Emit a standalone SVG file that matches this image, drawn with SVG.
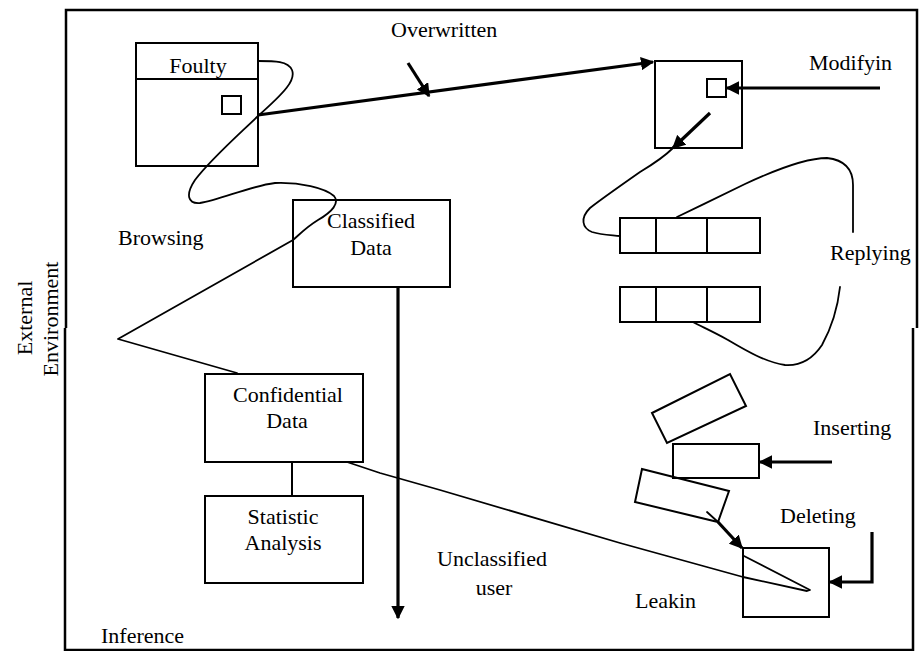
<svg xmlns="http://www.w3.org/2000/svg" width="921" height="651" viewBox="0 0 921 651">
<style>
text{font-family:"Liberation Serif","Times New Roman",serif;font-size:22px;fill:#000}
.box{fill:none;stroke:#000;stroke-width:2}
.thin{fill:none;stroke:#000;stroke-width:1.8;stroke-linejoin:round;stroke-linecap:round}
.thick{fill:none;stroke:#000;stroke-width:3.2}
.frame{fill:none;stroke:#000;stroke-width:2.5}
.c{text-anchor:middle}
</style>
<defs>
<marker id="ah" viewBox="0 0 10 10" refX="9" refY="5" markerWidth="4.2" markerHeight="4.2" orient="auto" markerUnits="strokeWidth">
<path d="M0,0 L10,5 L0,10 z" fill="#000"/>
</marker>
</defs>
<rect width="921" height="651" fill="#fff"/>
<g id="frame">
<path class="frame" d="M66,328 V10 H917 V328"/>
<path class="frame" d="M65,328 V650 H913 V328"/>
</g>
<g id="foulty">
<rect class="box" x="136" y="43" width="122" height="123"/>
<line class="box" x1="136" y1="79" x2="258" y2="79"/>
<rect class="box" x="222" y="96" width="19" height="18"/>
<text class="c" x="198" y="73">Foulty</text>
</g>
<g id="modify-box">
<rect class="box" x="655" y="61" width="87" height="87"/>
<rect class="box" x="707" y="79" width="19" height="18"/>
</g>
<g id="classified">
<rect class="box" x="293" y="200" width="157" height="87"/>
<text class="c" x="371" y="228">Classified</text>
<text class="c" x="371" y="255">Data</text>
</g>
<g id="confidential">
<rect class="box" x="205" y="374" width="158" height="88"/>
<text class="c" x="288" y="402">Confidential</text>
<text class="c" x="287" y="428">Data</text>
</g>
<g id="statistic">
<rect class="box" x="205" y="496" width="158" height="87"/>
<text class="c" x="283" y="524">Statistic</text>
<text class="c" x="283" y="550">Analysis</text>
</g>
<g id="queue1">
<rect class="box" x="620" y="218" width="140" height="35"/>
<line class="box" x1="656" y1="218" x2="656" y2="253"/>
<line class="box" x1="707" y1="218" x2="707" y2="253"/>
</g>
<g id="queue2">
<rect class="box" x="620" y="287" width="140" height="35"/>
<line class="box" x1="656" y1="287" x2="656" y2="322"/>
<line class="box" x1="707" y1="287" x2="707" y2="322"/>
</g>
<g id="tilted-top">
<polygon class="box" points="652,413 730,374 746,406 667,443"/>
</g>
<g id="inserting-box">
<rect class="box" x="673" y="444" width="86" height="34"/>
</g>
<g id="tilted-bottom">
<polygon class="box" points="642,469 729,491 718,522 635,502"/>
</g>
<g id="leaking-box">
<rect class="box" x="743" y="548" width="86" height="69"/>
</g>
<g id="labels">
<text x="391" y="37">Overwritten</text>
<text x="809" y="70">Modifyin</text>
<text x="118" y="245">Browsing</text>
<text x="830" y="260">Replying</text>
<text x="813" y="435">Inserting</text>
<text x="780" y="523">Deleting</text>
<text x="437" y="566">Unclassified</text>
<text class="c" x="494" y="595">user</text>
<text x="635" y="608">Leakin</text>
<text x="101" y="643">Inference</text>
<text class="c" transform="translate(32,318) rotate(-90)">External</text>
<text class="c" transform="translate(58,319) rotate(-90)">Environment</text>
</g>
<g id="connectors">
<path class="thin" d="M258,61 C275,61 288,61 292,70 C296,80 285,92 258,116 C235,138 210,160 195,180 C185,195 188,204 200,203 C220,200 250,186 275,183 C300,182 325,188 334,196 C340,203 332,212 318,220 C305,228 298,236 293,240 L118,339 L237,373"/>
<path class="thin" d="M673,148 C665,156 655,163 640,172 C620,186 600,200 590,208 C580,218 582,228 592,232 C602,235 612,235 620,236"/>
<path class="thin" d="M677,217 C700,206 720,196 745,184 C775,170 805,158 827,158 C845,160 853,170 853,185 L853,232"/>
<path class="thin" d="M840,287 C838,305 833,325 822,345 C812,360 800,366 785,365 C765,362 745,350 728,340 C712,331 700,326 693,322"/>
<path class="thin" d="M347,462 L380,473 L440,490 L620,543 L743,577 L807,591 L810,590 L744,556"/>
<line class="box" x1="292" y1="462" x2="292" y2="496"/>
<line class="thick" x1="258" y1="115" x2="653" y2="62" marker-end="url(#ah)"/>
<line class="thick" x1="408" y1="63" x2="429" y2="96" marker-end="url(#ah)"/>
<line class="thick" x1="880" y1="88" x2="727" y2="88" marker-end="url(#ah)"/>
<line class="thick" x1="710" y1="113" x2="673" y2="148" marker-end="url(#ah)"/>
<line class="thick" x1="398" y1="287" x2="398" y2="618" marker-end="url(#ah)"/>
<line class="thick" x1="832" y1="462" x2="760" y2="462" marker-end="url(#ah)"/>
<line class="thin" x1="707" y1="512" x2="718" y2="522"/>
<line class="thick" x1="718" y1="522" x2="742" y2="548" marker-end="url(#ah)"/>
<path class="thick" d="M872,532 V582 H830" marker-end="url(#ah)"/>
</g>
</svg>
